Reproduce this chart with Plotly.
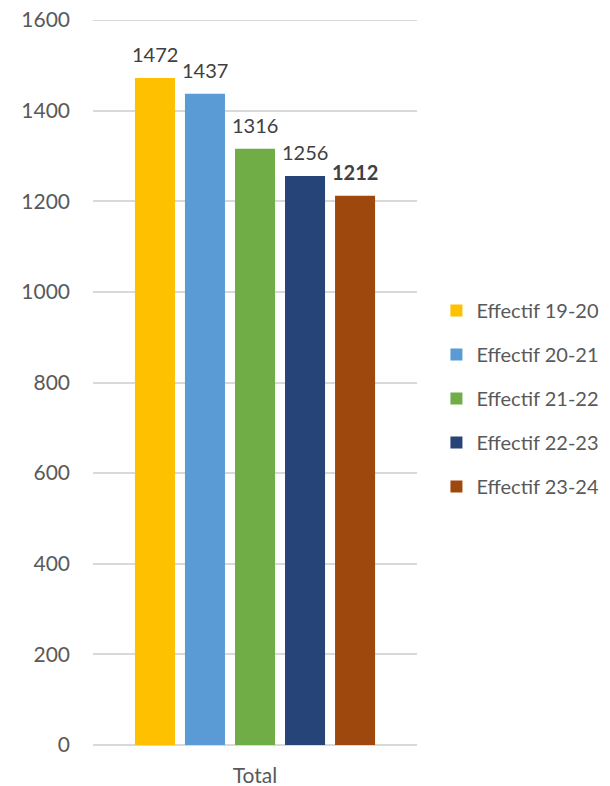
import plotly.graph_objects as go

categories = ["Total"]
series_names = ["Effectif 19-20", "Effectif 20-21", "Effectif 21-22", "Effectif 22-23", "Effectif 23-24"]
series_values = [1472, 1437, 1316, 1256, 1212]
series_colors = ["#FFC000", "#5B9BD5", "#70AD47", "#264478", "#9E480E"]
label_bold = [False, False, False, False, True]
y_ticks = [0, 200, 400, 600, 800, 1000, 1200, 1400, 1600]

FONT = "Lato, 'Open Sans', sans-serif"
BARGAP = 0.228
GROUPGAP = 0.2
GRID = "#D9D9D9"

fig = go.Figure()
n = len(series_values)
slot = (1 - BARGAP) / n
annotations = []
for i, (name, val, col, bold) in enumerate(zip(series_names, series_values, series_colors, label_bold)):
    fig.add_trace(go.Bar(
        x=categories, y=[val], name=name, legendgroup=name,
        marker=dict(color=col, line=dict(width=0)),
        hoverinfo="name+y",
    ))
    txt = f"<b>{val}</b>" if bold else str(val)
    annotations.append(dict(
        x=-(1 - BARGAP) / 2 + slot * (i + 0.5), y=val, xref="x", yref="y",
        text=txt, showarrow=False, yanchor="bottom", xanchor="center", yshift=10,
        font=dict(size=20, color="#404040", family=FONT),
    ))

# top gridline (plotly clips gridlines lying exactly on the plot edge)
shapes = [dict(type="line", xref="paper", x0=0, x1=1, yref="y",
               y0=y_ticks[-1], y1=y_ticks[-1], layer="below",
               line=dict(color=GRID, width=2))]

fig.update_layout(
    width=610, height=786,
    margin=dict(l=93, r=193, t=20, b=41, autoexpand=False),
    paper_bgcolor="white", plot_bgcolor="rgba(0,0,0,0)",
    barmode="group", bargap=BARGAP, bargroupgap=GROUPGAP,
    font=dict(family=FONT, color="#595959", size=20),
    showlegend=True,
    annotations=annotations,
    shapes=shapes,
    legend=dict(x=1.06, y=0.478, xanchor="left", yanchor="middle",
                font=dict(size=20, color="#595959", family=FONT),
                itemwidth=30, tracegroupgap=15, bgcolor="rgba(0,0,0,0)"),
    xaxis=dict(showgrid=False, showline=False, zeroline=False, automargin=False,
               ticklabelstandoff=16,
               tickfont=dict(size=21, color="#595959")),
    yaxis=dict(range=[0, 1600], tickvals=y_ticks, showgrid=True, automargin=False,
               gridcolor=GRID, gridwidth=2, zeroline=True,
               zerolinecolor=GRID, zerolinewidth=2, showline=False,
               ticks="", ticklabelstandoff=22,
               tickfont=dict(size=21, color="#595959")),
)

fig.write_html("out.html", config={"displayModeBar": False},
               post_script="document.body.style.margin='0';")
